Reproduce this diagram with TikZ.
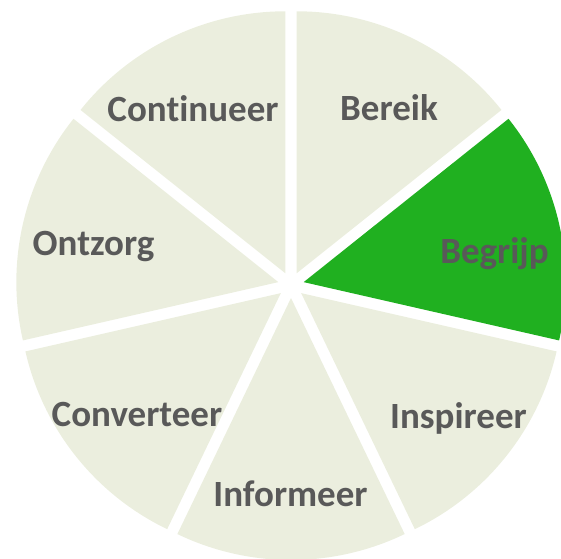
\documentclass[tikz,border=0pt]{standalone}
\usepackage{fontspec}
\setmainfont{Carlito}[Ligatures=NoCommon]
\usepackage{tikz}
\usetikzlibrary{calc}

\definecolor{slicegray}{HTML}{EBEEDE}
\definecolor{slicegreen}{HTML}{20B020}
\definecolor{labelgray}{HTML}{595959}

\tikzset{
	slice/.style={fill=slicegray},
	active/.style={fill=slicegreen},
	label/.style={anchor=base, text=labelgray, font=\bfseries\fontsize{37}{40}\selectfont, inner sep=0pt}
}

\begin{document}
\begin{tikzpicture}[x=1pt, y=1pt]
	\useasboundingbox (0,0) rectangle (561,-558);
	\clip (0,0) rectangle (561,-558);
	\coordinate (c) at (291,-285);

	% seven slices, each pushed out a little along its middle
	\foreach \a/\s in {38.57/slice, -12.86/active, -64.29/slice, -115.71/slice, -167.14/slice, 141.43/slice, 90/slice}
		\fill[\s] ($(c)+(\a+25.71:13)$) -- ++(\a:262) arc[start angle=\a, end angle=\a+51.43, radius=262] -- cycle;

	\node[label] (bereik) at (389,-120)     {Bereik};
	\node[label] (begrijp) at (494.5,-263)     {Begrijp};
	\node[label] (inspireer) at (458.5,-428)     {Inspireer};
	\node[label] (informeer) at (290.5,-506)     {Informeer};
	\node[label] (converteer) at (137,-426)     {Converteer};
	\node[label] (ontzorg) at (93.5,-255)     {Ontzorg};
	\node[label] (continueer) at (193,-121)     {Continueer};
\end{tikzpicture}
\end{document}
